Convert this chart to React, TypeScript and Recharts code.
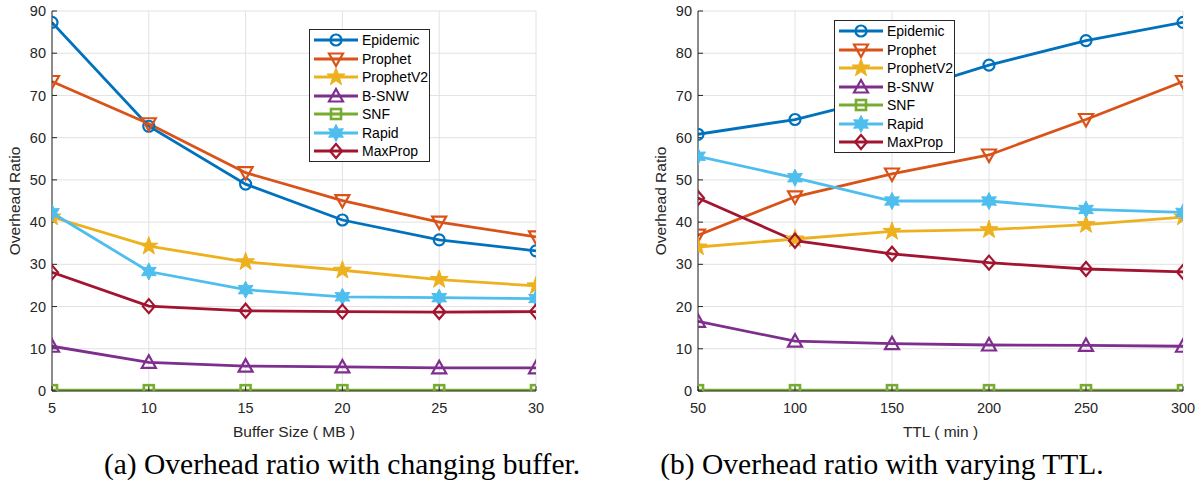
import { LineChart, Line, XAxis, YAxis, CartesianGrid, Legend } from 'recharts'

const bufferSizes = [5, 10, 15, 20, 25, 30]
const ttlMinutes = [50, 100, 150, 200, 250, 300]
const ratioTicks = [0, 10, 20, 30, 40, 50, 60, 70, 80, 90]

const seriesNames = ['Epidemic', 'Prophet', 'ProphetV2', 'B-SNW', 'SNF', 'Rapid', 'MaxProp']
const seriesColors = ['#0072BD', '#D95319', '#EDB120', '#7E2F8E', '#77AC30', '#4DBEEE', '#A2142F']
const seriesMarkers = ['circle', 'triangleDown', 'pentagram', 'triangleUp', 'square', 'hexagram', 'diamond']

// overhead ratio vs buffer size (MB)
const bufEpidemic = [87.3, 62.7, 49.0, 40.5, 35.8, 33.2]
const bufProphet = [73.3, 63.3, 51.7, 45.1, 40.0, 36.5]
const bufProphetV2 = [41.2, 34.3, 30.6, 28.6, 26.4, 24.9]
const bufBSNW = [10.6, 6.8, 5.9, 5.7, 5.5, 5.5]
const bufSNF = [0.2, 0.2, 0.2, 0.2, 0.2, 0.2]
const bufRapid = [42.2, 28.3, 24.0, 22.3, 22.1, 21.9]
const bufMaxProp = [28.1, 20.1, 19.0, 18.8, 18.7, 18.8]

// overhead ratio vs TTL (min)
const ttlEpidemic = [60.8, 64.3, 70.0, 77.2, 83.0, 87.3]
const ttlProphet = [36.9, 46.0, 51.4, 55.9, 64.3, 73.3]
const ttlProphetV2 = [34.1, 36.0, 37.8, 38.2, 39.4, 41.2]
const ttlBSNW = [16.5, 11.8, 11.2, 10.9, 10.8, 10.6]
const ttlSNF = [0.2, 0.2, 0.2, 0.2, 0.2, 0.2]
const ttlRapid = [55.6, 50.5, 45.0, 45.0, 43.0, 42.3]
const ttlMaxProp = [45.7, 35.6, 32.5, 30.4, 28.9, 28.2]

const AXIS = '#262626'
const LINE_W = 2.8

function buildRows(xs: number[], cols: number[][]) {
  return xs.map((x, i) => {
    const row: Record<string, number> = { x }
    seriesNames.forEach((name, j) => {
      row[name] = cols[j][i]
    })
    return row
  })
}

const bufferRows = buildRows(bufferSizes, [bufEpidemic, bufProphet, bufProphetV2, bufBSNW, bufSNF, bufRapid, bufMaxProp])
const ttlRows = buildRows(ttlMinutes, [ttlEpidemic, ttlProphet, ttlProphetV2, ttlBSNW, ttlSNF, ttlRapid, ttlMaxProp])

function starPoints(cx: number, cy: number, n: number, outer: number, inner: number) {
  const pts: string[] = []
  for (let k = 0; k < 2 * n; k++) {
    const r = k % 2 === 0 ? outer : inner
    const a = -Math.PI / 2 + (k * Math.PI) / n
    pts.push(`${cx + r * Math.cos(a)},${cy + r * Math.sin(a)}`)
  }
  return pts.join(' ')
}

function Marker({ cx, cy, shape, color }: { cx: number; cy: number; shape: string; color: string }) {
  const sw = 2.2
  switch (shape) {
    case 'circle':
      return <circle cx={cx} cy={cy} r={5.5} fill="none" stroke={color} strokeWidth={sw} />
    case 'triangleDown':
      return (
        <polygon
          points={`${cx - 7},${cy - 5.5} ${cx + 7},${cy - 5.5} ${cx},${cy + 7}`}
          fill="none" stroke={color} strokeWidth={sw}
        />
      )
    case 'triangleUp':
      return (
        <polygon
          points={`${cx - 7},${cy + 5.5} ${cx + 7},${cy + 5.5} ${cx},${cy - 7}`}
          fill="none" stroke={color} strokeWidth={sw}
        />
      )
    case 'pentagram':
      return <polygon points={starPoints(cx, cy, 5, 9.5, 3.8)} fill={color} stroke={color} strokeWidth={1} />
    case 'hexagram':
      return <polygon points={starPoints(cx, cy, 6, 8.5, 4.6)} fill={color} stroke={color} strokeWidth={1} />
    case 'square':
      return <rect x={cx - 5} y={cy - 5} width={10} height={10} fill="none" stroke={color} strokeWidth={2.6} />
    case 'diamond':
      return (
        <polygon
          points={`${cx},${cy - 7} ${cx + 6},${cy} ${cx},${cy + 7} ${cx - 6},${cy}`}
          fill="none" stroke={color} strokeWidth={sw}
        />
      )
    default:
      return null
  }
}

function LegendBox() {
  return (
    <div
      style={{
        background: '#fff',
        border: `1px solid ${AXIS}`,
        boxSizing: 'border-box',
        width: 121,
        height: 133,
        paddingTop: 1,
        fontSize: 14,
        color: '#000',
      }}
    >
      {seriesNames.map((name, i) => (
        <div key={name} style={{ display: 'flex', alignItems: 'center', height: 18.5 }}>
          <svg width={52} height={18} style={{ display: 'block' }}>
            <line x1={4} x2={48} y1={9} y2={9} stroke={seriesColors[i]} strokeWidth={LINE_W} />
            <Marker cx={26} cy={9} shape={seriesMarkers[i]} color={seriesColors[i]} />
          </svg>
          <span style={{ lineHeight: '18px' }}>{name}</span>
        </div>
      ))}
    </div>
  )
}

interface PanelProps {
  rows: Record<string, number>[]
  xTicks: number[]
  xLabel: string
  marginLeft: number
  marginRight: number
  legendLeft: number
  legendTop: number
}

function Panel({ rows, xTicks, xLabel, marginLeft, marginRight, legendLeft, legendTop }: PanelProps) {
  const xDomain: [number, number] = [xTicks[0], xTicks[xTicks.length - 1]]
  return (
    <LineChart width={600} height={440} data={rows} margin={{ top: 11, right: marginRight, bottom: 0, left: marginLeft }}>
      <CartesianGrid stroke="#e2e2e2" strokeWidth={1} />
      <XAxis
        dataKey="x"
        type="number"
        domain={xDomain}
        ticks={xTicks}
        interval={0}
        allowDataOverflow
        height={49}
        tickSize={-5}
        tickMargin={17}
        stroke={AXIS}
        tick={{ fill: AXIS, fontSize: 14.5 }}
        label={{ value: xLabel, position: 'insideBottom', offset: 3, fill: AXIS, fontSize: 15.5 }}
      />
      <XAxis
        xAxisId="top"
        orientation="top"
        dataKey="x"
        type="number"
        domain={xDomain}
        ticks={xTicks}
        interval={0}
        allowDataOverflow
        height={0}
        tick={false}
        tickSize={-5}
        stroke={AXIS}
      />
      <YAxis
        type="number"
        domain={[0, 90]}
        ticks={ratioTicks}
        interval={0}
        allowDataOverflow
        width={52}
        tickSize={-5}
        tickMargin={11}
        stroke={AXIS}
        tick={{ fill: AXIS, fontSize: 14.5 }}
        label={{
          value: 'Overhead Ratio',
          angle: -90,
          position: 'insideLeft',
          offset: 14,
          fill: AXIS,
          fontSize: 15.5,
          style: { textAnchor: 'middle' },
        }}
      />
      <YAxis
        yAxisId="right"
        orientation="right"
        type="number"
        domain={[0, 90]}
        ticks={ratioTicks}
        interval={0}
        allowDataOverflow
        width={0}
        tick={false}
        tickSize={-5}
        stroke={AXIS}
      />
      <Legend
        layout="vertical"
        align="center"
        verticalAlign="middle"
        wrapperStyle={{ left: legendLeft, top: legendTop, width: 121, height: 133 }}
        content={() => <LegendBox />}
      />
      {seriesNames.map((name, i) => (
        <Line
          key={name}
          type="linear"
          dataKey={name}
          name={name}
          stroke={seriesColors[i]}
          strokeWidth={LINE_W}
          isAnimationActive={false}
          activeDot={false}
          dot={(p: any) => (
            <Marker key={`${name}-${p.index}`} cx={p.cx} cy={p.cy} shape={seriesMarkers[i]} color={seriesColors[i]} />
          )}
        />
      ))}
    </LineChart>
  )
}

const captionStyle: React.CSSProperties = {
  position: 'absolute',
  top: 449,
  width: 600,
  textAlign: 'center',
  fontFamily: "'Liberation Serif', serif",
  fontSize: 29.5,
  lineHeight: '30px',
  color: '#000',
  whiteSpace: 'nowrap',
}

export default function App() {
  return (
    <div
      style={{
        position: 'absolute',
        left: 0,
        top: 0,
        width: 1201,
        height: 485,
        background: '#fff',
        fontFamily: "'Liberation Sans', Arial, sans-serif",
        overflow: 'hidden',
      }}
    >
      <div style={{ position: 'absolute', left: 0, top: 0 }}>
        <Panel
          rows={bufferRows}
          xTicks={bufferSizes}
          xLabel="Buffer Size ( MB )"
          marginLeft={0}
          marginRight={64}
          legendLeft={309}
          legendTop={29}
        />
      </div>
      <div style={{ position: 'absolute', left: 600, top: 0 }}>
        <Panel
          rows={ttlRows}
          xTicks={ttlMinutes}
          xLabel="TTL ( min )"
          marginLeft={46}
          marginRight={17}
          legendLeft={234}
          legendTop={20}
        />
      </div>
      <div style={{ ...captionStyle, left: 342 - 300 }}>(a) Overhead ratio with changing buffer.</div>
      <div style={{ ...captionStyle, left: 882 - 300 }}>(b) Overhead ratio with varying TTL.</div>
    </div>
  )
}
